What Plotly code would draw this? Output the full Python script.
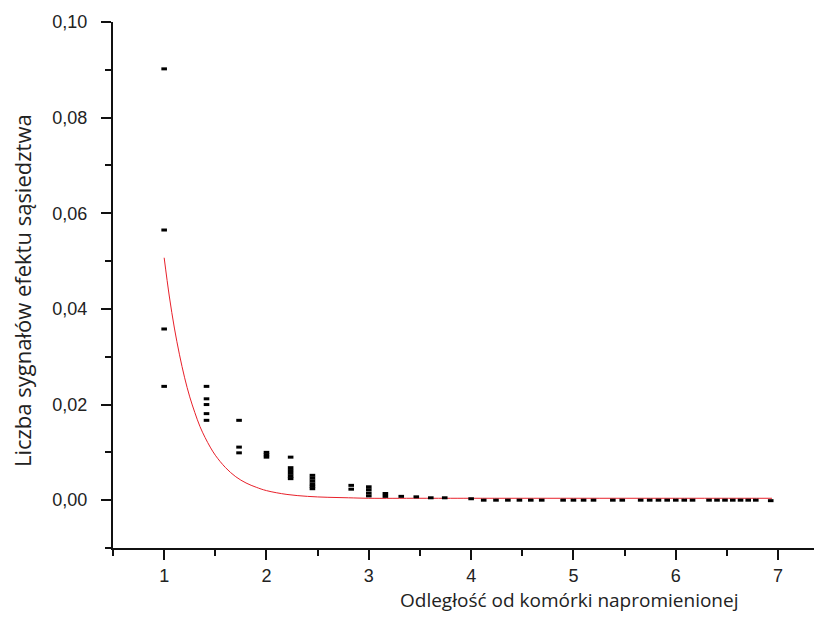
import plotly.graph_objects as go

# Measured points (distance, signal count)
pts_x = [1.0, 1.0, 1.0, 1.0,
         1.414, 1.414, 1.414, 1.414, 1.414,
         1.732, 1.732, 1.732,
         2.0, 2.0, 2.0,
         2.236, 2.236, 2.236, 2.236, 2.236, 2.236,
         2.449, 2.449, 2.449, 2.449, 2.449, 2.449,
         2.828, 2.828,
         3.0, 3.0, 3.0, 3.0,
         3.162, 3.162,
         3.317, 3.464, 3.606, 3.742, 4.0,
         4.123, 4.243, 4.359, 4.472, 4.583, 4.690, 4.899, 5.0,
         5.099, 5.196, 5.385, 5.477, 5.657, 5.745, 5.831, 5.916, 6.0,
         6.083, 6.164, 6.325, 6.403, 6.481, 6.557, 6.633, 6.708, 6.782, 6.928]
pts_y = [0.0902, 0.0565, 0.0358, 0.0238,
         0.0238, 0.0212, 0.0200, 0.0181, 0.0167,
         0.0167, 0.0111, 0.0099,
         0.0100, 0.0095, 0.0090,
         0.0090, 0.0068, 0.0062, 0.0056, 0.0050, 0.0045,
         0.0052, 0.0046, 0.0040, 0.0034, 0.0029, 0.0024,
         0.0031, 0.0023,
         0.0028, 0.0022, 0.0015, 0.0009,
         0.0014, 0.0008,
         0.0008, 0.0007, 0.0005, 0.0005, 0.0003,
         0.0, 0.0, 0.0, 0.0, 0.0, 0.0, 0.0, 0.0,
         0.0, 0.0, 0.0, 0.0, 0.0, 0.0, 0.0, 0.0, 0.0,
         0.0, 0.0, 0.0, 0.0, 0.0, 0.0, 0.0, 0.0, 0.0, -0.0001]

# Fitted decay curve
fit_x = [1.00, 1.05, 1.10, 1.15, 1.20, 1.25, 1.30, 1.35, 1.40, 1.45, 1.50,
         1.60, 1.70, 1.80, 1.90, 2.00, 2.20, 2.40, 2.60, 2.80, 3.00,
         3.50, 4.00, 5.00, 6.00, 6.94]
fit_y = [0.0507, 0.0427, 0.0360, 0.0304, 0.0256, 0.0216, 0.0183, 0.0154,
         0.0131, 0.0111, 0.0094, 0.0068, 0.0049, 0.0036, 0.0027, 0.0020,
         0.0012, 0.0008, 0.0006, 0.0005, 0.0004, 0.0004, 0.0004, 0.0004,
         0.0004, 0.0004]

x_ticks = [1, 2, 3, 4, 5, 6, 7]
y_ticks = [0.00, 0.02, 0.04, 0.06, 0.08, 0.10]

x_title = "Odległość od komórki napromienionej"
y_title = "Liczba sygnałów efektu sąsiedztwa"

fig = go.Figure()
fig.add_trace(go.Scatter(x=fit_x, y=fit_y, mode="lines",
                         line=dict(color="#e8202a", width=1, shape="spline"),
                         showlegend=False, hoverinfo="skip"))
fig.add_trace(go.Scatter(x=pts_x, y=pts_y, mode="markers",
                         marker=dict(symbol="line-ew", size=4, color="black",
                                     line=dict(width=3, color="black")),
                         showlegend=False))

axis_common = dict(showgrid=False, zeroline=False, showline=True,
                   linecolor="#111", linewidth=2, ticks="outside",
                   tickcolor="#111", tickwidth=2, ticklen=10,
                   tickfont=dict(family="Liberation Sans", size=18, color="#222"))

fig.update_xaxes(range=[0.5, 7.39], tickvals=x_ticks,
                 ticktext=[str(v) for v in x_ticks],
                 minor=dict(ticks="outside", dtick=0.5, tick0=0.5, ticklen=6,
                            tickwidth=2, tickcolor="#111"),
                 **axis_common)
fig.update_yaxes(range=[-0.01, 0.10], tickvals=y_ticks, tickformat=".2f",
                 ticklabelstandoff=10,
                 minor=dict(ticks="outside", dtick=0.01, tick0=0.0, ticklen=6,
                            tickwidth=2, tickcolor="#111"),
                 **axis_common)

fig.add_annotation(text=y_title, xref="paper", yref="paper",
                   x=-0.1290, y=0.4886, xanchor="center", yanchor="middle",
                   textangle=-90, showarrow=False,
                   font=dict(family="Open Sans", size=22, color="#222"))
fig.add_annotation(text=x_title, xref="paper", yref="paper",
                   x=0.6475, y=-0.0985, xanchor="center", yanchor="middle",
                   showarrow=False,
                   font=dict(family="Open Sans", size=19, color="#222"))

fig.update_layout(width=814, height=623, separators=", ",
                  margin=dict(l=105, r=4, t=12, b=83),
                  paper_bgcolor="white", plot_bgcolor="white")

fig.write_html("out.html")
